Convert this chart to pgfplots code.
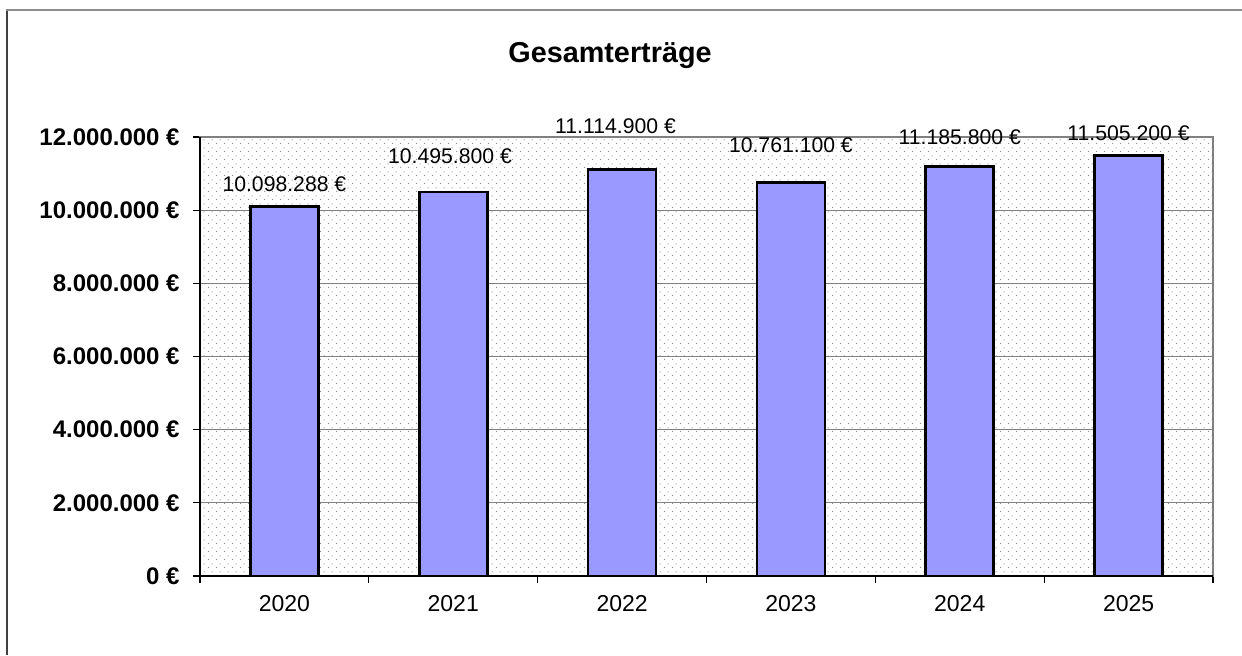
\documentclass[border=0pt]{standalone}
\usepackage{pgfplots}
\pgfplotsset{compat=1.18}
\usepackage{fontspec}
\setmainfont{Liberation Sans}
\usetikzlibrary{patterns.meta}
\definecolor{barblue}{HTML}{9999FF}
\definecolor{dotgray}{HTML}{959595}
\tikzdeclarepattern{
  name=xldots,
  type=uncolored,
  bottom left={(0pt,0pt)},
  top right={(4pt,4pt)},
  tile size={(4pt,4pt)},
  code={\fill (0pt,0pt) rectangle (0.6pt,0.6pt);
        \fill (2pt,2pt) rectangle (2.6pt,2.6pt);}
}
\begin{document}
\begin{tikzpicture}
\path[use as bounding box] (0,0) rectangle (621pt,327.5pt);
\draw[color=black!75, line width=1pt] (3.5pt,0) -- (3.5pt,322.5pt);
\draw[color=black!45, line width=1pt] (3pt,322.5pt) -- (621pt,322.5pt);
\node[anchor=base, font=\bfseries\fontsize{14.4}{16}\selectfont] at (305pt,296pt) {Gesamterträge};
\begin{axis}[
  at={(100pt,39.5pt)}, anchor=south west,
  scale only axis, width=506.5pt, height=219.5pt,
  xmin=-0.5, xmax=5.5, ymin=0, ymax=12000000,
  clip=false,
  axis background/.style={fill=white, postaction={pattern={xldots}, pattern color=dotgray}},
  axis line style={draw=black!50, line width=0.8pt},
  xtick={0,1,2,3,4,5},
  xticklabels={2020,2021,2022,2023,2024,2025},
  major x tick style={draw=none},
  minor xtick={-0.5,0.5,1.5,2.5,3.5,4.5,5.5},
  minor x tick style={draw=black, line width=0.6pt},
  minor tick length=3.5pt,
  tick align=outside,
  xtick pos=bottom, ytick pos=left,
  ytick={0,2000000,4000000,6000000,8000000,10000000,12000000},
  yticklabels={0 €,2.000.000 €,4.000.000 €,6.000.000 €,8.000.000 €,10.000.000 €,12.000.000 €},
  major y tick style={draw=black, line width=0.6pt},
  major tick length=3.5pt,
  scaled y ticks=false,
  ymajorgrids, major grid style={draw=black!50, line width=0.6pt},
  yticklabel style={font=\bfseries\fontsize{12}{14}\selectfont, anchor=east, inner sep=0pt, xshift=-6.5pt},
  xticklabel style={font=\fontsize{11.5}{13}\selectfont, anchor=north, inner sep=0pt, yshift=-6pt},
  ybar, bar width=34pt,
]
\addplot[ybar, fill=barblue, draw=black, line width=1.4pt] coordinates {
  (0,10098288) (1,10495800) (2,11114900) (3,10761100) (4,11185800) (5,11505200)
};
\addplot[draw=none, forget plot, nodes near coords, point meta=explicit symbolic,
  every node near coord/.style={anchor=center, inner sep=0pt, font=\fontsize{10.6}{12}\selectfont}]
  coordinates {
  (0,10720000) [10.098.288 €]
  (0.981,11480000) [10.495.800 €]
  (1.961,12300000) [11.114.900 €]
  (3,11780000) [10.761.100 €]
  (4,12000000) [11.185.800 €]
  (5,12110000) [11.505.200 €]
};
\draw[black, line width=0.9pt] (rel axis cs:0,1) -- (rel axis cs:0,0) -- (rel axis cs:1,0);
\end{axis}
\end{tikzpicture}
\end{document}
